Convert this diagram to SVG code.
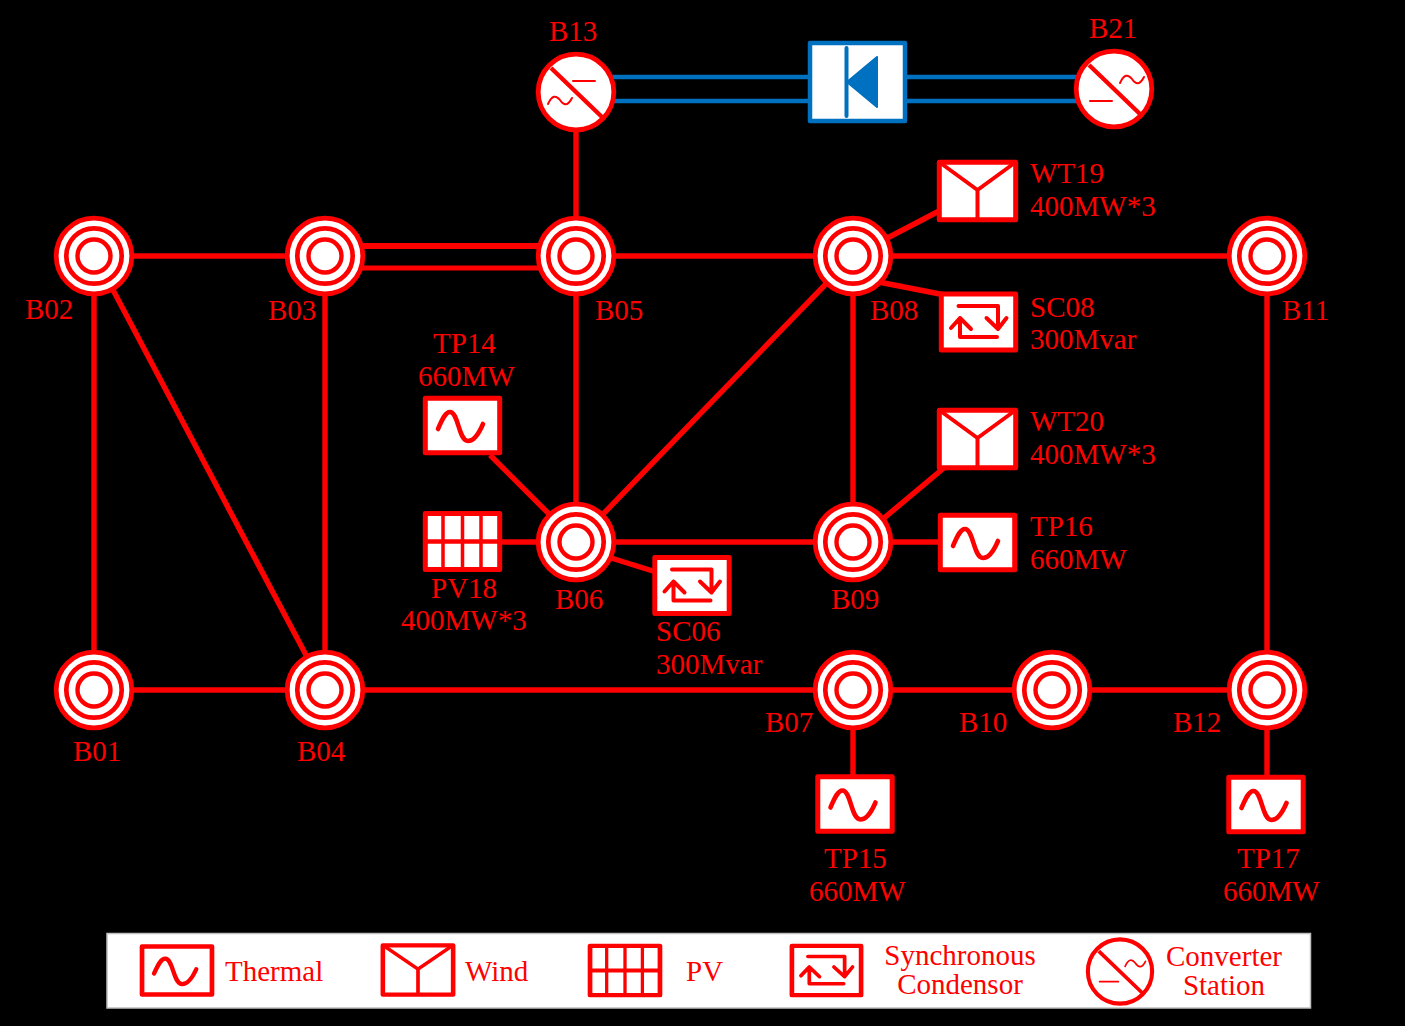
<svg xmlns="http://www.w3.org/2000/svg" width="1405" height="1026" viewBox="0 0 1405 1026">
<style>
text{font-family:"Liberation Serif","Times New Roman",serif;font-size:29px;fill:#ff0000}
.m{text-anchor:middle}
.e{stroke:#ff0000;stroke-width:5.4;fill:none}
.dc{stroke:#0070c0;stroke-width:4.5;fill:none}
.box{fill:#fff;stroke:#ff0000;stroke-width:5;stroke-linejoin:round}
.g{fill:none;stroke:#ff0000;stroke-width:4;stroke-linecap:round;stroke-linejoin:round}
.w{fill:#fff;stroke:#ff0000}
</style>
<defs>
<g id="bus">
<circle r="37.8" class="w" stroke-width="4.8"/>
<circle r="27.7" class="w" stroke-width="4.7"/>
<circle r="16.5" class="w" stroke-width="4.4"/>
</g>
<g id="thermal">
<rect x="-37.2" y="-27.2" width="74.4" height="54.4" class="box"/>
<path class="g" style="stroke-width:4.6" d="M-24.5,3.5C-20,-7 -17,-13.5 -12.5,-13.5C-4,-13.5 -4,15.5 5.5,15.5C11,15.5 16,9 20.5,-1.5"/>
</g>
<g id="wind">
<rect x="-38.2" y="-28.7" width="76.4" height="57.4" class="box"/>
<path class="g" d="M-37,-28L0,-1L37,-28M0,-1V28"/>
</g>
<g id="pv">
<rect x="-37.2" y="-28" width="74.4" height="56" class="box"/>
<path class="g" style="stroke-width:3.5;stroke-linecap:butt" d="M-19.5,-28V28M0,-28V28M18.5,-28V28"/>
<path class="g" style="stroke-width:4.5;stroke-linecap:butt" d="M-37,0H37"/>
</g>
<g id="sc">
<rect x="-37.2" y="-28" width="74.4" height="56" class="box"/>
<path class="g" d="M-20,-16H19.5V6M8,-4L19.5,7L28,-4M18.5,15H-18.5V-4M-27.5,6L-18.5,-4L-7.5,7"/>
</g>
<g id="conv1">
<circle r="37.8" class="w" stroke-width="4.8"/>
<path class="g" style="stroke-width:4.4;stroke-linecap:butt" d="M-25,-24L26,25"/>
<path class="g" style="stroke-width:2" d="M-3,-11H19M-28,12C-24,3 -20,3 -16,8C-12,14 -8,14 -4,6"/>
</g>
<g id="conv2">
<circle r="37.8" class="w" stroke-width="4.8"/>
<path class="g" style="stroke-width:4.4;stroke-linecap:butt" d="M-25,-24L26,25"/>
<path class="g" style="stroke-width:2" d="M-24,12H-2M6,-6C10,-15 14,-15 18,-10C22,-4 26,-4 30,-12"/>
</g>
</defs>
<rect width="1405" height="1026" fill="#000"/>
<g id="connectors">
<path class="e" d="M94,256H325M576,256H853M853,256H1267M94,256V690M94,690H325M325,256V690M94,254L306,655M576,256V542M853,256V542M576,542H853M576,542L853,256M325,690H1267M1267,256V690M576,92V256M853,690V800M1267,690V800M853,542H980M853,544L945,467M853,256L941,210M853,277L945,295M490,455L576,541M500,542H576M576,547L656,572"/>
<path class="e" style="stroke-width:6" d="M325,246H576"/>
<path class="e" style="stroke-width:4.8" d="M325,268H576"/>
<path class="dc" d="M576,77H1114M576,101H1114"/>
</g>
<g id="B02"><use href="#bus" x="94" y="256"/><text x="25" y="319">B02</text></g>
<g id="B03"><use href="#bus" x="325" y="256"/><text x="268" y="320">B03</text></g>
<g id="B05"><use href="#bus" x="576" y="256"/><text x="595" y="320">B05</text></g>
<g id="B08"><use href="#bus" x="853" y="256"/><text x="870" y="320">B08</text></g>
<g id="B11"><use href="#bus" x="1267" y="256"/><text x="1282" y="320">B11</text></g>
<g id="B06"><use href="#bus" x="576" y="542"/><text x="555" y="609">B06</text></g>
<g id="B09"><use href="#bus" x="853" y="542"/><text x="831" y="609">B09</text></g>
<g id="B01"><use href="#bus" x="94" y="690"/><text x="73" y="761">B01</text></g>
<g id="B04"><use href="#bus" x="325" y="690"/><text x="297" y="761">B04</text></g>
<g id="B07"><use href="#bus" x="853" y="690"/><text x="765" y="732">B07</text></g>
<g id="B10"><use href="#bus" x="1052" y="690"/><text x="959" y="732">B10</text></g>
<g id="B12"><use href="#bus" x="1267" y="690"/><text x="1173" y="732">B12</text></g>
<g id="B13"><use href="#conv1" x="576" y="92"/><text x="549" y="41">B13</text></g>
<g id="B21"><use href="#conv2" x="1114" y="89"/><text x="1089" y="38">B21</text></g>
<g id="HVDC">
<rect x="810" y="43" width="95" height="78" fill="#fff" stroke="#0070c0" stroke-width="4.5" stroke-linejoin="round"/>
<path d="M846.5,48V116" stroke="#0070c0" stroke-width="4" stroke-linecap="round" fill="none"/>
<path d="M847,82L877,57V107Z" fill="#0070c0" stroke="#0070c0" stroke-width="2" stroke-linejoin="round"/>
</g>
<g id="TP14"><use href="#thermal" x="462.5" y="425.5"/><text x="433" y="353">TP14</text><text x="418" y="386">660MW</text></g>
<g id="PV18"><use href="#pv" x="462.5" y="541.5"/><text x="431" y="598">PV18</text><text x="401" y="630">400MW*3</text></g>
<g id="SC06"><use href="#sc" x="692" y="585.5"/><text x="656" y="641">SC06</text><text x="656" y="674">300Mvar</text></g>
<g id="WT19"><use href="#wind" x="977.5" y="191"/><text x="1030" y="183">WT19</text><text x="1030" y="216">400MW*3</text></g>
<g id="SC08"><use href="#sc" x="978.5" y="322"/><text x="1030" y="317">SC08</text><text x="1030" y="349">300Mvar</text></g>
<g id="WT20"><use href="#wind" x="977.5" y="439"/><text x="1030" y="431">WT20</text><text x="1030" y="464">400MW*3</text></g>
<g id="TP16"><use href="#thermal" x="977.5" y="542.5"/><text x="1030" y="536">TP16</text><text x="1030" y="569">660MW</text></g>
<g id="TP15"><use href="#thermal" x="855" y="804"/><text x="824" y="868">TP15</text><text x="809" y="901">660MW</text></g>
<g id="TP17"><use href="#thermal" x="1266" y="804.5"/><text x="1237" y="868">TP17</text><text x="1223" y="901">660MW</text></g>
<g id="legend">
<rect x="107" y="933.5" width="1203.5" height="74.5" fill="#fff" stroke="#bfbfbf" stroke-width="1.5"/>
<use href="#thermal" transform="translate(177,970.5) scale(.94,.88)"/><text x="225" y="981">Thermal</text>
<use href="#wind" transform="translate(418,970) scale(.92,.86)"/><text x="465" y="981">Wind</text>
<use href="#pv" transform="translate(625,970.5) scale(.94,.88)"/><text x="686" y="981">PV</text>
<use href="#sc" transform="translate(826.5,970.5) scale(.93,.88)"/><text class="m" x="960" y="965">Synchronous</text><text class="m" x="960" y="994">Condensor</text>
<use href="#conv2" transform="translate(1120,971.5) scale(.85)"/><text class="m" x="1224" y="966">Converter</text><text class="m" x="1224" y="995">Station</text>
</g>
</svg>
